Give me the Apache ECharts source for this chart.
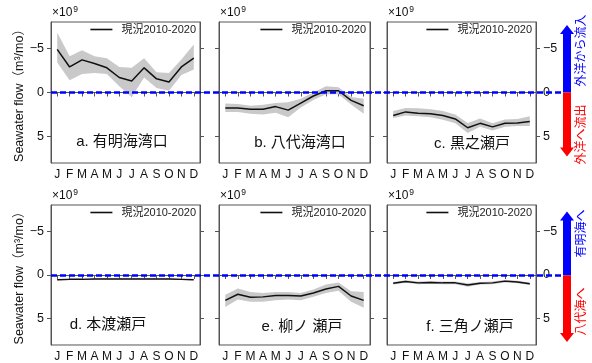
<!DOCTYPE html>
<html><head><meta charset="utf-8">
<script src="https://cdn.jsdelivr.net/npm/echarts@6/dist/echarts.min.js"></script>
<style>html,body{margin:0;padding:0;background:#fff}#c{width:592px;height:363px}</style>
</head><body><div id="c"></div>
<script>
const months = ['J','F','M','A','M','J','J','A','S','O','N','D'];
const yTicks = [-5, 0, 5];
const legendName = '現況2010-2020';
const panelNames = ['a. 有明海湾口','b. 八代海湾口','c. 黒之瀬戸','d. 本渡瀬戸','e. 柳ノ 瀬戸','f. 三角ノ瀬戸'];

// panel a
const aMean = [-4.9,-2.9,-3.7,-3.3,-2.8,-1.7,-1.3,-2.8,-1.55,-1.2,-2.9,-3.9];
const aMin  = [-6.8,-4.1,-4.8,-4.1,-3.9,-2.9,-2.8,-3.9,-2.3,-2.2,-3.75,-5.45];
const aMax  = [-3.4,-1.4,-2.1,-2.2,-2.1,-0.7,0.5,-1.7,-0.5,-0.2,-2.0,-2.6];
// panel b
const bMean = [1.75,1.75,1.9,1.9,1.6,2.0,1.2,0.4,-0.2,-0.2,0.9,1.5];
const bMin  = [1.25,1.3,1.5,1.4,1.2,1.1,0.7,0.0,-0.7,-0.6,0.5,0.7];
const bMax  = [2.2,2.2,2.4,2.5,2.3,2.8,1.7,0.85,0.2,0.2,1.35,2.4];
// panel c
const cMean = [2.6,2.2,2.35,2.4,2.6,3.0,4.0,3.5,3.9,3.5,3.45,3.3];
const cMin  = [2.1,1.75,1.8,1.9,2.1,2.5,3.45,2.95,3.5,3.05,3.0,2.7];
const cMax  = [2.9,2.6,2.7,2.8,3.1,3.5,4.6,3.9,4.3,3.9,3.8,3.8];
// panel d
const dMean = [0.55,0.5,0.5,0.45,0.45,0.45,0.45,0.45,0.45,0.45,0.5,0.55];
const dMin  = [0.47,0.43,0.43,0.38,0.38,0.38,0.38,0.38,0.38,0.38,0.43,0.47];
const dMax  = [0.62,0.57,0.57,0.52,0.52,0.52,0.52,0.52,0.52,0.52,0.57,0.62];
// panel e
const eMean = [2.9,2.2,2.55,2.5,2.35,2.35,2.4,2.05,1.6,1.3,2.4,2.9];
const eMin  = [2.25,1.55,1.95,2.05,1.95,1.95,2.05,1.65,1.1,0.85,1.85,1.95];
const eMax  = [3.65,2.8,3.05,3.05,2.9,2.8,2.9,2.5,2.05,1.8,3.05,3.75];
// panel f
const fMean = [0.95,0.75,0.9,0.85,0.9,0.9,1.15,0.95,0.9,0.7,0.8,1.0];
const fMin  = [0.8,0.6,0.75,0.7,0.75,0.75,0.95,0.8,0.75,0.55,0.65,0.85];
const fMax  = [1.1,0.9,1.05,1.0,1.05,1.05,1.35,1.1,1.05,0.85,0.95,1.15];

const zeroLine = [[0,0],[1,0]];

const panels = [
  {mean:aMean,min:aMin,max:aMax},{mean:bMean,min:bMin,max:bMax},{mean:cMean,min:cMin,max:cMax},
  {mean:dMean,min:dMin,max:dMax},{mean:eMean,min:eMin,max:eMax},{mean:fMean,min:fMin,max:fMax}
];

const FONT = "'Liberation Sans','Noto Sans CJK JP',sans-serif";
const JFONT = "'Liberation Sans','Noto Sans CJK JP',sans-serif";
const colsL = [51, 219, 387], colsW = [149, 151, 149];
const rowsT = [22, 205], rowH = 141;
const axisColor = '#555';

const grid = [], xAxis = [], yAxis = [], series = [], legend = [];
for (let i = 0; i < 6; i++) {
  const r = Math.floor(i / 3), c = i % 3;
  grid.push({left: colsL[c], top: rowsT[r], width: colsW[c], height: rowH, show: true, borderColor: axisColor, borderWidth: 1, containLabel: false});
  xAxis.push({type: 'category', gridIndex: i, data: months, boundaryGap: true,
    axisLine: {show: true, lineStyle: {color: axisColor}},
    axisTick: {show: true, alignWithLabel: true, length: 4, lineStyle: {color: axisColor}},
    axisLabel: {interval: 0, fontSize: 12, color: '#111', margin: 6, fontFamily: FONT},
    splitLine: {show: false}});
}
const yBase = (gi, pos, showLabel, nameTxt) => ({
  type: 'value', gridIndex: gi, position: pos, min: -8, max: 8, inverse: true,
  axisLine: {show: true, lineStyle: {color: axisColor}},
  axisTick: {show: true, length: 4, customValues: yTicks, lineStyle: {color: axisColor}},
  axisLabel: {show: showLabel, customValues: yTicks, fontSize: 12.5, color: '#111', margin: 7, fontFamily: FONT,
    formatter: v => String(v).replace('-', '\u2212')},
  splitLine: {show: false},
  name: nameTxt || '', nameLocation: 'middle', nameGap: 23,
  nameTextStyle: {fontSize: 12.5, color: '#111', fontFamily: JFONT}
});
for (let i = 0; i < 6; i++) {
  const c = i % 3;
  yAxis.push(yBase(i, 'left', c === 0, c === 0 ? 'Seawater flow（m³/mo）' : ''));
}
for (let i = 0; i < 6; i++) {
  const c = i % 3;
  yAxis.push(yBase(i, 'right', c === 2, ''));
}
// overlay grids for the dashed zero line across panels
for (let r = 0; r < 2; r++) {
  grid.push({left: 51, right: 592 - 563, top: rowsT[r], height: rowH, show: false});
  xAxis.push({type: 'value', gridIndex: 6 + r, min: 0, max: 1, show: false});
  yAxis.push({type: 'value', gridIndex: 6 + r, min: -8, max: 8, inverse: true, show: false});
}

for (let i = 0; i < 6; i++) {
  const p = panels[i];
  const diff = p.max.map((v, k) => +(v - p.min[k]).toFixed(3));
  series.push({type: 'line', name: 'band-base-' + i, xAxisIndex: i, yAxisIndex: i, data: p.min,
    stack: 'band' + i, stackStrategy: 'all', symbol: 'none', silent: true,
    lineStyle: {opacity: 0}, z: 1});
  series.push({type: 'line', name: 'band-' + i, xAxisIndex: i, yAxisIndex: i, data: diff,
    stack: 'band' + i, stackStrategy: 'all', symbol: 'none', silent: true,
    lineStyle: {opacity: 0}, areaStyle: {color: '#c9c9c9', opacity: 1}, z: 1});
  series.push({type: 'line', name: legendName, xAxisIndex: i, yAxisIndex: i, data: p.mean,
    symbol: 'none', lineStyle: {color: '#111', width: 1.5}, itemStyle: {color: '#111'}, z: 3});
  const r = Math.floor(i / 3), c = i % 3;
  legend.push({data: [legendName], right: 592 - (colsL[c] + colsW[c]) + 4, top: rowsT[r] + 2,
    icon: 'rect', itemWidth: 22, itemHeight: 1.6, padding: 0,
    textStyle: {fontSize: 11, color: '#222', fontFamily: JFONT, padding: [0, 0, 0, 4]}});
}
for (let r = 0; r < 2; r++) {
  series.push({type: 'line', name: 'zero-' + r, xAxisIndex: 6 + r, yAxisIndex: 12 + r, data: zeroLine,
    symbol: 'none', silent: true, lineStyle: {color: '#0000ff', width: 2.6, type: [6, 3]}, z: 10});
}

const chart = echarts.init(document.getElementById('c'), null, {renderer: 'canvas'});
chart.setOption({animation: false, backgroundColor: '#fff', grid, xAxis, yAxis, series, legend});

// annotations
const graphic = [];
const labelPos = [[122,142],[300,143],[472,144],[108,325],[302,327],[470,327]];
for (let i = 0; i < 6; i++) {
  const r = Math.floor(i / 3), c = i % 3;
  graphic.push({type: 'text', x: colsL[c] + 1, y: rowsT[r] - 2, silent: true,
    style: {text: '×10{s|9}', fill: '#111', font: '12px ' + FONT, textVerticalAlign: 'bottom',
      rich: {s: {fontSize: 8.5, verticalAlign: 'top', padding: [0, 0, 6, 1], fontFamily: FONT}}}});
  graphic.push({type: 'text', x: labelPos[i][0], y: labelPos[i][1], silent: true,
    style: {text: panelNames[i], fill: '#111', font: '15px ' + JFONT, textAlign: 'center', textVerticalAlign: 'middle'}});
}
const arrowX = 567;
const arrows = [
  {row: 0, tip: -7.65, end: 7.25, up: '外洋から流入', down: '外洋へ流出', upOff: -42, downOff: 42},
  {row: 1, tip: -7.25, end: 7.55, up: '有明海へ', down: '八代海へ', upOff: -42, downOff: 36}
];
arrows.forEach(a => {
  const sIdx = 18 + a.row;
  const y0 = chart.convertToPixel({seriesIndex: sIdx}, [0, 0])[1];
  const yT = chart.convertToPixel({seriesIndex: sIdx}, [0, a.tip])[1];
  const yE = chart.convertToPixel({seriesIndex: sIdx}, [0, a.end])[1];
  const sw = 4, hw = 7, hl = 9;
  graphic.push({type: 'polygon', silent: true, shape: {points: [
    [arrowX, yT], [arrowX + hw, yT + hl], [arrowX + sw, yT + hl], [arrowX + sw, y0],
    [arrowX - sw, y0], [arrowX - sw, yT + hl], [arrowX - hw, yT + hl]]}, style: {fill: '#0000ff'}});
  graphic.push({type: 'polygon', silent: true, shape: {points: [
    [arrowX, yE], [arrowX + hw, yE - hl], [arrowX + sw, yE - hl], [arrowX + sw, y0],
    [arrowX - sw, y0], [arrowX - sw, yE - hl], [arrowX - hw, yE - hl]]}, style: {fill: '#ff0000'}});
  graphic.push({type: 'text', x: 582, y: y0 + a.upOff, rotation: Math.PI / 2, silent: true,
    style: {text: a.up, fill: '#0000ff', font: '12px ' + JFONT, textAlign: 'center', textVerticalAlign: 'middle'}});
  graphic.push({type: 'text', x: 582, y: y0 + a.downOff, rotation: Math.PI / 2, silent: true,
    style: {text: a.down, fill: '#ff0000', font: '12px ' + JFONT, textAlign: 'center', textVerticalAlign: 'middle'}});
});
chart.setOption({graphic});
</script></body></html>
